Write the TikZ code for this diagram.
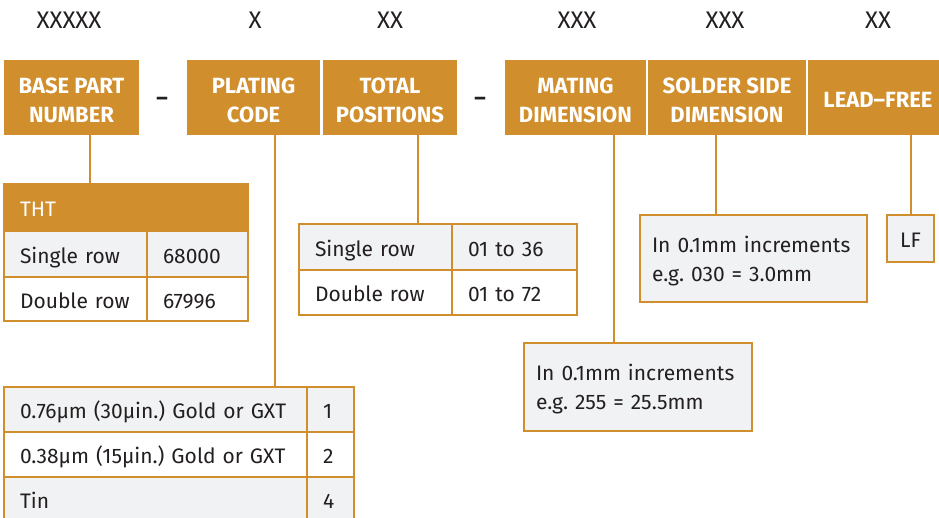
\documentclass[tikz,border=0pt]{standalone}
\usepackage{fontspec}
\setmainfont{Fira Sans}
\frenchspacing
\hyphenpenalty=10000
\definecolor{org}{HTML}{D18E2C}
\definecolor{lgray}{HTML}{F1F2F4}
\definecolor{ink}{HTML}{231F20}
\begin{document}
\begin{tikzpicture}[x=1pt,y=-1pt,
  hdr/.style={fill=org, text=white, font=\fontsize{22}{29}\selectfont\bfseries, align=center, inner sep=0pt, text height=50pt, text depth=0pt, minimum height=75pt},
  hdrone/.style={hdr, text height=21pt},
  cell/.style={draw=org, line width=2.5pt, inner xsep=16pt, inner ysep=0pt, text=ink, font=\fontsize{21}{29}\selectfont, align=left, text height=18.5pt, text depth=0pt},
  gcell/.style={cell, fill=lgray},
  wcell/.style={cell, fill=white},
  info/.style={gcell, inner xsep=12pt, text height=16.5pt, text depth=29pt},
  code/.style={text=ink, font=\fontsize{24}{28}\selectfont, inner sep=0pt},
  sep/.style={text=ink, font=\fontsize{22}{26}\selectfont\bfseries, inner sep=0pt},
  conn/.style={draw=org, line width=2.5pt}]
\useasboundingbox (0,0) rectangle (939,518);

% top code labels
\node[code] (x1) at (69,20) {XXXXX};
\node[code] (x2) at (255,20) {X};
\node[code] (x3) at (390,20) {XX};
\node[code] (x4) at (577,20) {XXX};
\node[code] (x5) at (725,20) {XXX};
\node[code] (x6) at (878,20) {XX};

% headers
\node[hdr, minimum width=135pt] (base) at (71.5,97.5) {BASE PART\\NUMBER};
\node[sep] (d1) at (162,101) {–};
\node[hdr, minimum width=133pt] (plat) at (253.5,97.5) {PLATING\\CODE};
\node[hdr, minimum width=134pt] (tot) at (390,97.5) {TOTAL\\POSITIONS};
\node[sep] (d2) at (480,101) {–};
\node[hdr, minimum width=141pt] (mat) at (575.5,97.5) {MATING\\DIMENSION};
\node[hdr, minimum width=158pt] (sol) at (727,97.5) {SOLDER SIDE\\DIMENSION};
\node[hdrone, minimum width=140pt] (lf) at (878,97.5) {LEAD–FREE};

% THT table
\node[cell, fill=org, text=white, text width=212pt, minimum height=47pt, text height=19pt] (tht) at (126,207.5) {THT};
\node[gcell, text width=111pt, minimum height=46pt] (t11) at (75.5,254) {Single row};
\node[gcell, text width=69pt, minimum height=46pt] (t12) at (197.5,254) {68000};
\node[wcell, text width=111pt, minimum height=44pt] (t21) at (75.5,299) {Double row};
\node[wcell, text width=69pt, minimum height=44pt] (t22) at (197.5,299) {67996};

% positions table
\node[gcell, text width=121pt, minimum height=46pt] (p11) at (375.5,247) {Single row};
\node[gcell, text width=93pt, minimum height=46pt] (p12) at (514.5,247) {01 to 36};
\node[wcell, text width=121pt, minimum height=45pt] (p21) at (375.5,292.5) {Double row};
\node[wcell, text width=93pt, minimum height=45pt] (p22) at (514.5,292.5) {01 to 72};

% plating table
\node[gcell, text width=271pt, minimum height=45pt] (g11) at (155.5,409.5) {0.76µm (30µin.) Gold or GXT};
\node[gcell, text width=15pt, minimum height=45pt] (g12) at (330.5,409.5) {1};
\node[wcell, text width=271pt, minimum height=45pt] (g21) at (155.5,454.5) {0.38µm (15µin.) Gold or GXT};
\node[wcell, text width=15pt, minimum height=45pt] (g22) at (330.5,454.5) {2};
\node[gcell, text width=271pt, minimum height=45pt] (g31) at (155.5,499.5) {Tin};
\node[gcell, text width=15pt, minimum height=45pt] (g32) at (330.5,499.5) {4};

% info boxes
\node[info, text width=204pt, minimum height=88pt] (mbox) at (638,387) {In 0.1mm increments\\e.g. 255 = 25.5mm};
\node[info, text width=203pt, minimum height=87pt] (sbox) at (753.5,258.5) {In 0.1mm increments\\e.g. 030 = 3.0mm};
\node[gcell, inner xsep=0pt, align=center, text width=47pt, minimum height=47pt] (lbox) at (910.5,238.5) {LF};

% connectors
\draw[conn] (base.south -| 90,0) -- (tht.north -| 90,0);
\draw[conn] (plat.south -| 275,0) -- (g11.north -| 275,0);
\draw[conn] (tot.south -| 418,0) -- (p11.north -| 418,0);
\draw[conn] (mat.south -| 614,0) -- (mbox.north -| 614,0);
\draw[conn] (sol.south -| 716,0) -- (sbox.north -| 716,0);
\draw[conn] (lf.south -| 911,0) -- (lbox.north -| 911,0);
\end{tikzpicture}
\end{document}
